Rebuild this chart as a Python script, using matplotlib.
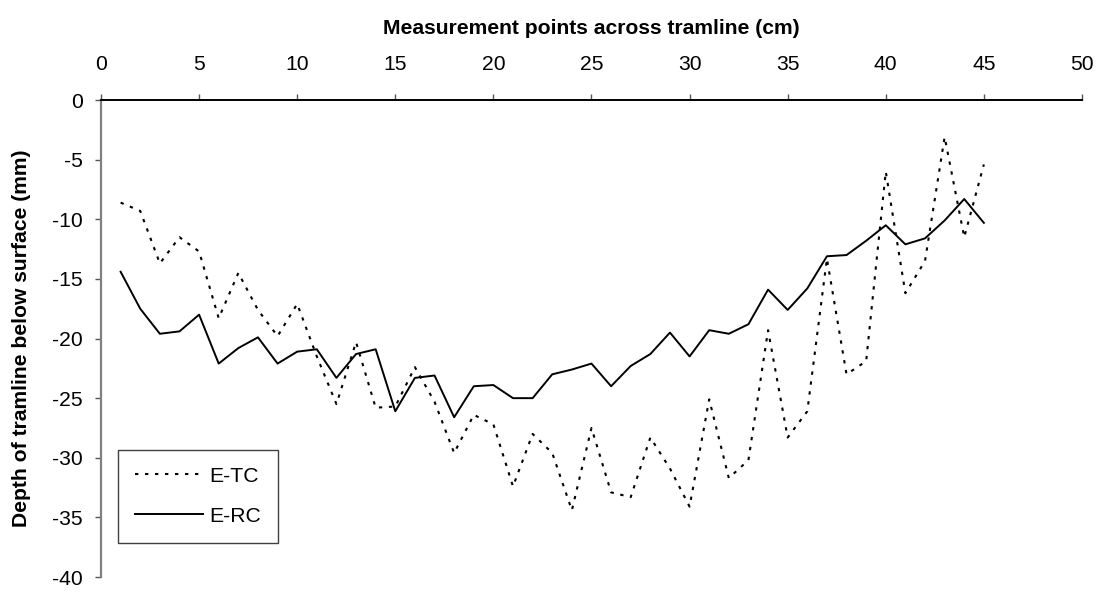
import matplotlib
matplotlib.use("Agg")
import matplotlib.pyplot as plt

plt.rcParams['font.family'] = ['Liberation Sans', 'DejaVu Sans']
plt.rcParams['axes.unicode_minus'] = False

points = list(range(1, 46))
e_tc = [-8.6, -9.3, -13.7, -11.5, -12.7, -18.3, -14.5, -17.6, -19.8, -17.1,
        -21.5, -25.5, -20.3, -25.8, -25.7, -22.4, -25.3, -29.6, -26.4, -27.2,
        -32.4, -28.0, -29.6, -34.4, -27.5, -32.9, -33.3, -28.3, -30.9, -34.1,
        -25.1, -31.7, -30.2, -19.3, -28.3, -26.1, -13.3, -23.0, -21.9, -6.0,
        -16.2, -13.5, -3.1, -11.5, -5.4]
e_rc = [-14.4, -17.5, -19.6, -19.4, -18.0, -22.1, -20.8, -19.9, -22.1, -21.1,
        -20.9, -23.3, -21.3, -20.9, -26.1, -23.3, -23.1, -26.6, -24.0, -23.9,
        -25.0, -25.0, -23.0, -22.6, -22.1, -24.0, -22.3, -21.3, -19.5, -21.5,
        -19.3, -19.6, -18.8, -15.9, -17.6, -15.8, -13.1, -13.0, -11.8, -10.5,
        -12.1, -11.6, -10.1, -8.3, -10.3]
series_labels = ["E-TC", "E-RC"]
x_ticks = list(range(0, 51, 5))
y_ticks = list(range(-40, 1, 5))
x_title = "Measurement points across tramline (cm)"
y_title = "Depth of tramline below surface (mm)"

FS = 15.2

fig = plt.figure(figsize=(10.99, 5.92), dpi=100)
ax = fig.add_axes([0.0919, 0.0253, 0.8926, 0.8057])

ax.plot(points, e_tc, color='black', lw=1.5, linestyle=(0, (1.6, 3.2)),
        dash_capstyle='butt', label=series_labels[0])
ax.plot(points, e_rc, color='black', lw=1.4, linestyle='-', label=series_labels[1])

ax.set_xlim(0, 50)
ax.set_ylim(-40, 0)
ax.set_xticks(x_ticks)
ax.set_yticks(y_ticks)

ax.xaxis.set_ticks_position('top')
ax.xaxis.set_label_position('top')
for s in ['right', 'bottom']:
    ax.spines[s].set_visible(False)
ax.spines['top'].set_color('black')
ax.spines['top'].set_linewidth(1.4)
ax.spines['left'].set_color('#808080')
ax.spines['left'].set_linewidth(1.6)

ax.tick_params(axis='x', direction='out', length=4, width=1, color='#555555',
               labelsize=FS, pad=15)
ax.tick_params(axis='y', direction='out', length=4, width=1, color='#555555',
               labelsize=FS, pad=9)

ax.set_xlabel(x_title, fontsize=FS, fontweight='bold')
ax.xaxis.label.set_va('center')
ax.xaxis.set_label_coords(0.5, 1.150)
ax.set_ylabel(y_title, fontsize=FS, fontweight='bold')
ax.yaxis.label.set_va('center')
ax.yaxis.set_label_coords(-0.0815, 0.5)

leg = ax.legend(loc='lower left', bbox_to_anchor=(0.0176, 0.072),
                fontsize=FS, frameon=True, fancybox=False, shadow=False,
                handlelength=3.2, handletextpad=0.3, borderpad=0.8,
                labelspacing=1.0, borderaxespad=0)
leg.get_frame().set_edgecolor('#404040')
leg.get_frame().set_linewidth(1.0)
leg.get_frame().set_facecolor('white')
leg.get_frame().set_alpha(1)

fig.savefig('out.png', dpi=100, facecolor='white')
